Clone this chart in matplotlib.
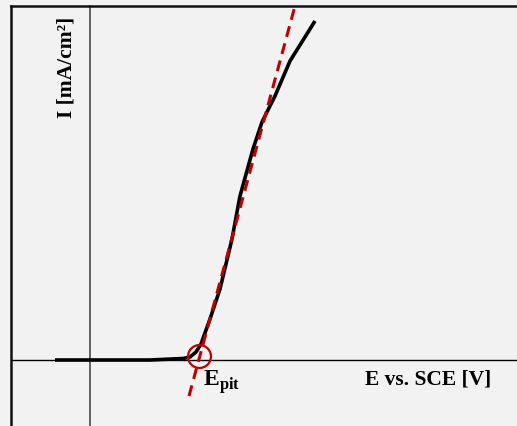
import matplotlib
matplotlib.use("Agg")
import matplotlib.pyplot as plt
from matplotlib.lines import Line2D

plt.rcParams['mathtext.fontset'] = 'custom'
plt.rcParams['mathtext.rm'] = 'Liberation Serif:bold'
plt.rcParams['mathtext.bf'] = 'Liberation Serif:bold'

# Polarization curve (arbitrary units)
E_curve = [-0.35, 0.60, 0.93, 1.00, 1.06, 1.11, 1.20, 1.30, 1.42, 1.50, 1.63, 1.72, 1.85, 2.00, 2.25]
I_curve = [0.0, 0.0, 0.15, 0.3, 0.8, 1.6, 4.1, 7.1, 12.1, 16.4, 21.1, 23.8, 26.4, 29.9, 33.9]

# Tangent line used to determine pitting potential
E_tangent = [0.99, 2.05]
I_tangent = [-3.6, 35.4]

# Pitting potential marker
E_pit = [1.093]
I_pit = [0.37]

BG = '#f2f2f2'
RED = '#c00000'

fig = plt.figure(figsize=(5.17, 4.27), dpi=100, facecolor=BG)
ax = fig.add_axes([0, 0, 1, 1])
ax.set_facecolor(BG)
ax.set_xlim(-0.9, 4.27)
ax.set_ylim(-6.6, 36.1)
ax.axis('off')

# axes lines through origin
ax.axhline(0, xmin=12/517, xmax=1, color='black', lw=1.0, zorder=1)
ax.axvline(0, ymin=0, ymax=1 - 7/427, color='#555555', lw=1.3, zorder=1)

ax.plot(E_curve, I_curve, color='black', lw=2.6, solid_capstyle='butt',
        solid_joinstyle='round', zorder=3)
ax.plot(E_tangent, I_tangent, color=RED, lw=2.2, dashes=(3.6, 2.2), zorder=4)
ax.plot(E_pit, I_pit, marker='o', ms=16.5, mfc='none', mec=RED, mew=1.6, ls='none', zorder=5)

# figure frame (open on right and bottom)
fig.add_artist(Line2D([11/517, 1], [1 - 7/427, 1 - 7/427], transform=fig.transFigure,
                      color='#111111', lw=1.8))
fig.add_artist(Line2D([11/517, 11/517], [0, 1 - 7/427], transform=fig.transFigure,
                      color='#111111', lw=1.8))

serif = 'Liberation Serif'
fig.text(428/517, 1 - 380/427, 'E vs. SCE [V]', ha='center', va='center',
         fontsize=15.5, fontweight='bold', family=serif)
fig.text(67/517, 1 - 67/427, 'I [mA/cm²]', ha='center', va='center', rotation=90,
         fontsize=15.5, fontweight='bold', family=serif)
fig.text(203/517, 1 - 386/427, r'$\mathrm{E}_{\mathrm{pit}}$', ha='left', va='baseline',
         fontsize=17)

fig.savefig('out.png', dpi=100, facecolor=BG)
